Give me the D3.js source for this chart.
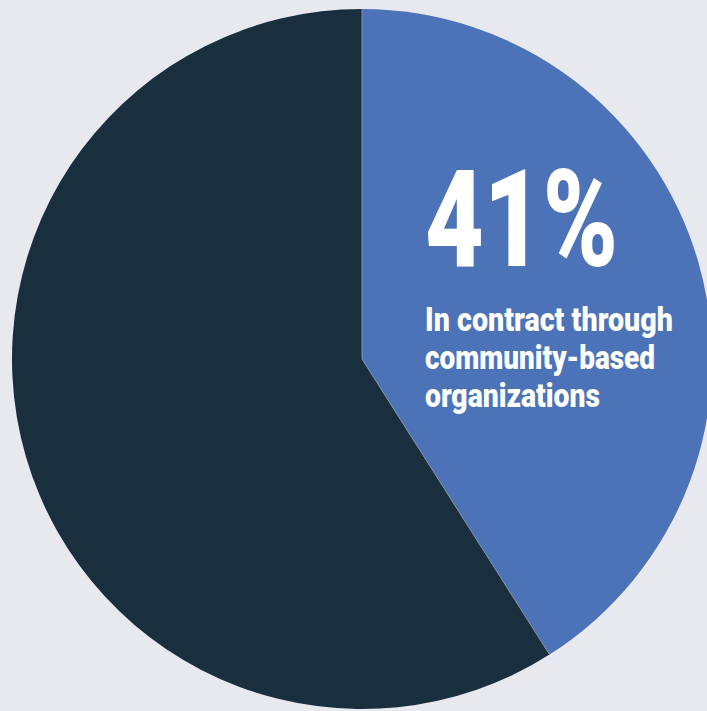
<!DOCTYPE html>
<html>
<head>
<meta charset="utf-8">
<script src="https://cdn.jsdelivr.net/npm/d3@7"></script>
<style>
  html, body { margin: 0; padding: 0; background: #e8e9ee; overflow: hidden; }
  svg { display: block; }
</style>
</head>
<body>
<svg id="chart" width="707" height="711"></svg>
<script>
// Share of contracts by channel
const categories = ["In contract through community-based organizations", "Other"];
const shares = [41, 59];
const sliceColors = ["#4c72b8", "#1a2f3e"];

// Callout text for the highlighted slice
const calloutValue = "41%";
const calloutLines = ["In contract through", "community-based", "organizations"];

const width = 707, height = 711;
const cx = 362, cy = 359, radius = 350;

const svg = d3.select("#chart");
svg.append("rect").attr("width", width).attr("height", height).attr("fill", "#e8e9ee");

const pie = d3.pie().sort(null).value(d => d);
const arcs = pie(shares);
const arc = d3.arc().innerRadius(0).outerRadius(radius);

const g = svg.append("g").attr("transform", `translate(${cx},${cy})`);

g.selectAll("path.slice")
  .data(arcs)
  .join("path")
  .attr("class", "slice")
  .attr("d", arc)
  .attr("fill", (d, i) => sliceColors[i]);

// thin separators along slice boundaries
const boundaries = arcs.map(d => d.startAngle);
g.selectAll("line.sep")
  .data(boundaries)
  .join("line")
  .attr("class", "sep")
  .attr("x1", 0).attr("y1", 0)
  .attr("x2", a => radius * Math.sin(a))
  .attr("y2", a => -radius * Math.cos(a))
  .attr("stroke", "#8592a6")
  .attr("stroke-width", 1);

// Callout: big percentage plus label, left-aligned in the blue slice
const textX = 425;
svg.append("text")
  .attr("x", textX)
  .attr("y", 266)
  .attr("fill", "#ffffff")
  .attr("font-family", "Roboto, 'DejaVu Sans', sans-serif")
  .attr("font-weight", 900)
  .attr("font-size", 135)
  .attr("textLength", 193)
  .attr("lengthAdjust", "spacingAndGlyphs")
  .text(calloutValue);

const lineWidths = [248, 230, 175];
svg.selectAll("text.label")
  .data(calloutLines)
  .join("text")
  .attr("class", "label")
  .attr("x", textX)
  .attr("y", (d, i) => 331 + i * 38)
  .attr("fill", "#ffffff")
  .attr("font-family", "Roboto, 'DejaVu Sans', sans-serif")
  .attr("font-weight", 900)
  .attr("font-size", 34)
  .attr("textLength", (d, i) => lineWidths[i])
  .attr("lengthAdjust", "spacingAndGlyphs")
  .text(d => d);
</script>
</body>
</html>
